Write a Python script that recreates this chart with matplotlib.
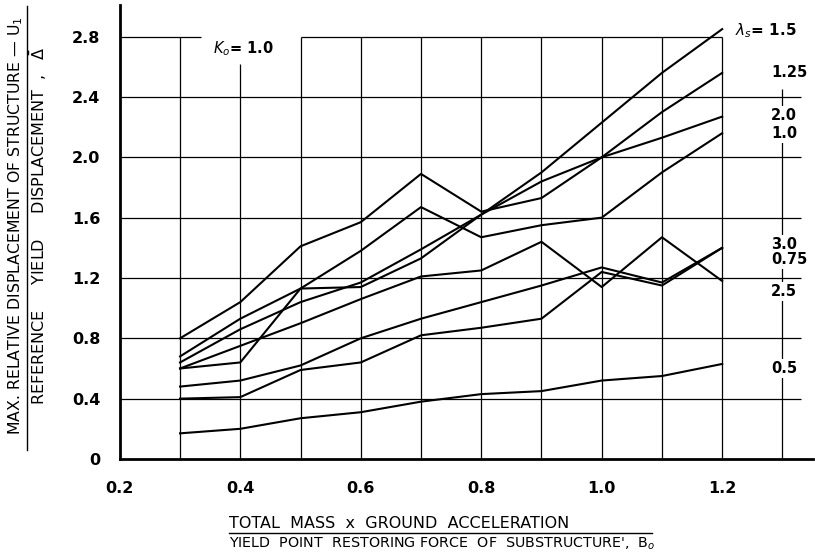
import numpy as np
import matplotlib
matplotlib.use("Agg")
import matplotlib.pyplot as plt
from matplotlib.lines import Line2D

# ratio of ground force to yield force (x) and displacement ratio for each lambda_s
x = [0.3, 0.4, 0.5, 0.6, 0.7, 0.8, 0.9, 1.0, 1.1, 1.2]
lam_15 = [0.60, 0.64, 1.13, 1.14, 1.33, 1.62, 1.90, 2.23, 2.56, 2.85]
lam_125 = [0.80, 1.04, 1.41, 1.57, 1.89, 1.64, 1.73, 2.00, 2.30, 2.56]
lam_20 = [0.64, 0.86, 1.04, 1.17, 1.39, 1.62, 1.84, 2.00, 2.13, 2.27]
lam_10 = [0.68, 0.93, 1.13, 1.38, 1.67, 1.47, 1.55, 1.60, 1.90, 2.16]
lam_30 = [0.48, 0.52, 0.62, 0.80, 0.93, 1.04, 1.15, 1.27, 1.17, 1.40]
lam_075 = [0.40, 0.41, 0.59, 0.64, 0.82, 0.87, 0.93, 1.24, 1.15, 1.40]
lam_25 = [0.60, 0.75, 0.90, 1.06, 1.21, 1.25, 1.44, 1.14, 1.47, 1.18]
lam_05 = [0.17, 0.20, 0.27, 0.31, 0.38, 0.43, 0.45, 0.52, 0.55, 0.63]

series = [lam_15, lam_125, lam_20, lam_10, lam_30, lam_075, lam_25, lam_05]
curve_labels = ["1.25", "2.0", "1.0", "3.0", "0.75", "2.5", "0.5"]

xticks = [0.2, 0.4, 0.6, 0.8, 1.0, 1.2]
xtick_labels = ["0.2", "0.4", "0.6", "0.8", "1.0", "1.2"]
yticks = [0, 0.4, 0.8, 1.2, 1.6, 2.0, 2.4, 2.8]
ytick_labels = ["0", "0.4", "0.8", "1.2", "1.6", "2.0", "2.4", "2.8"]

fig = plt.figure(figsize=(8.15, 5.6), dpi=100)
ax = fig.add_axes([0.147, 0.1804, 0.850, 0.8107])
ax.set_xlim(0.2, 1.35)
ax.set_ylim(0, 3.01)

# grid, drawn by hand because it is broken around the labels
gw = 0.9
for yv in yticks[1:-1]:
    ax.hlines(yv, 0.2, 1.33, color="black", lw=gw, zorder=1)
ax.hlines(2.8, 0.2, 0.335, color="black", lw=gw, zorder=1)
ax.hlines(2.8, 0.5, 1.2, color="black", lw=gw, zorder=1)
for xv in x:
    top = 2.62 if xv == 0.4 else 2.8
    ax.vlines(xv, 0, top, color="black", lw=gw, zorder=1)
ax.vlines(1.3, 0, 2.45, color="black", lw=gw, zorder=1)

for s in series:
    ax.plot(x, s, color="black", lw=1.5, zorder=3)

for side in ["top", "right"]:
    ax.spines[side].set_visible(False)
for side in ["left", "bottom"]:
    ax.spines[side].set_linewidth(2.0)

ax.set_xticks(xticks)
ax.set_xticklabels(xtick_labels, fontsize=11.5, fontweight="bold")
ax.set_yticks(yticks)
ax.set_yticklabels(ytick_labels, fontsize=11.5, fontweight="bold")
ax.tick_params(axis="x", length=0, pad=16)
ax.tick_params(axis="y", length=0, pad=14)

# curve labels at the right
box = dict(facecolor="white", edgecolor="none", pad=1.5)
ax.text(1.222, 2.84, r"$\lambda_s$= 1.5", fontsize=11, fontweight="bold",
        va="center", ha="left", bbox=box, zorder=4)
label_y = [2.56, 2.28, 2.16, 1.42, 1.32, 1.11, 0.60]
for t, yv in zip(curve_labels, label_y):
    ax.text(1.281, yv, t, fontsize=10.5, fontweight="bold", va="center",
            ha="left", bbox=box, zorder=4)

ax.text(0.355, 2.72, r"$K_o$= 1.0", fontsize=10.5, fontweight="bold",
        va="center", ha="left")

# axis titles written as fractions
fig.text(0.019, 0.597, "MAX. RELATIVE DISPLACEMENT OF STRUCTURE \u2014 U$_1$",
         rotation=90, fontsize=11.3, ha="center", va="center")
fig.text(0.047, 0.597, "REFERENCE     YIELD     DISPLACEMENT  ,   $\\bar{\\Delta}$",
         rotation=90, fontsize=11.5, ha="center", va="center")
fig.add_artist(Line2D([0.033, 0.033], [0.197, 0.99], color="black", lw=1.0))

fig.text(0.281, 0.066, "TOTAL  MASS  x  GROUND  ACCELERATION",
         fontsize=11.5, ha="left", va="center")
fig.text(0.281, 0.029, "YIELD  POINT  RESTORING FORCE  OF  SUBSTRUCTURE',  B$_o$",
         fontsize=10.3, ha="left", va="center")
fig.add_artist(Line2D([0.281, 0.80], [0.048, 0.048], color="black", lw=1.0))

fig.savefig("out.png", dpi=100)
